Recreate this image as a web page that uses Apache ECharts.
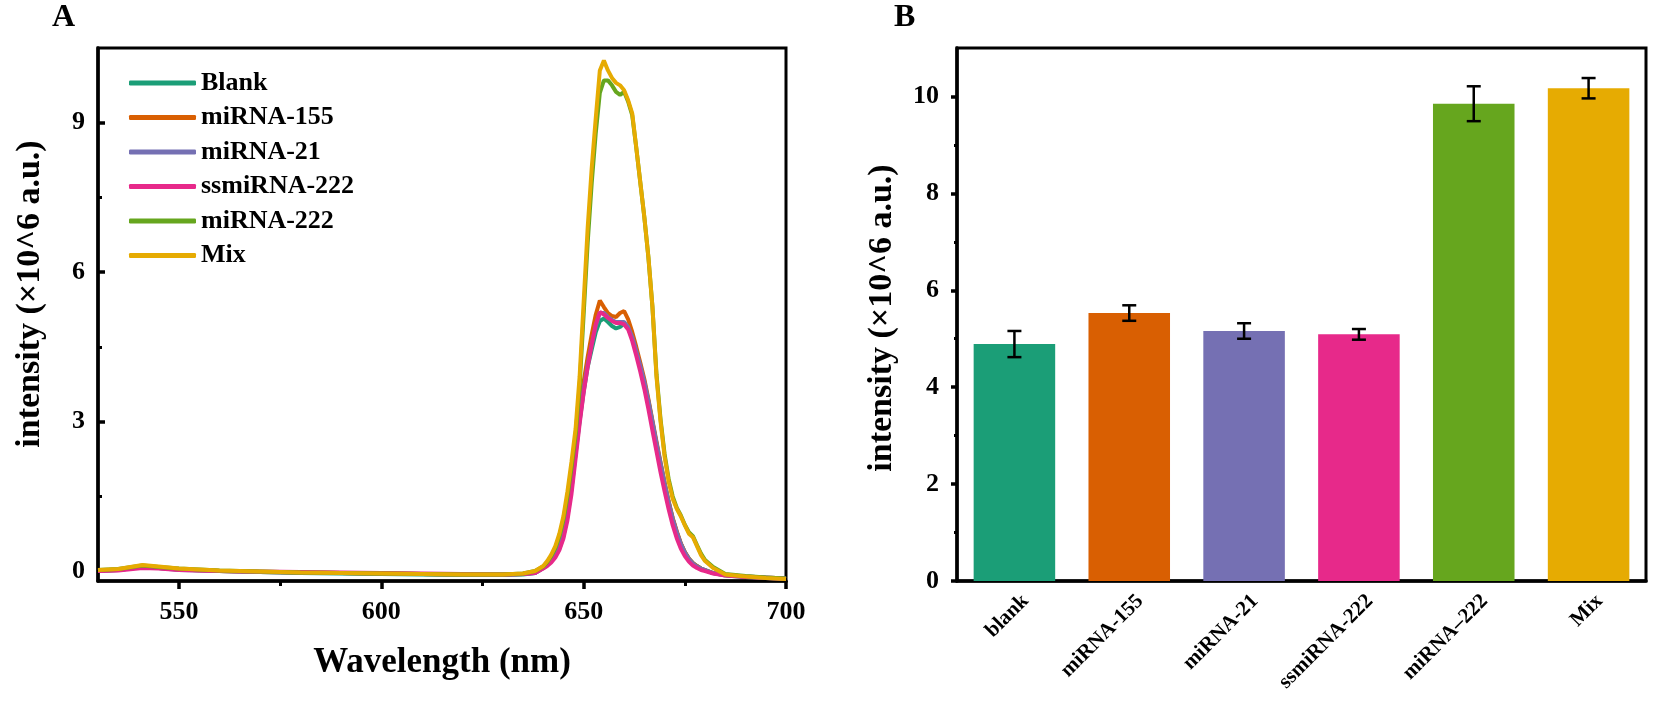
<!DOCTYPE html>
<html>
<head>
<meta charset="utf-8">
<script src="https://cdn.jsdelivr.net/npm/echarts@6/dist/echarts.min.js"></script>
<style>
html,body{margin:0;padding:0;background:#fff;}
#c{width:1654px;height:704px;}
</style>
</head>
<body>
<div id="c"></div>
<script>
// ---------- Panel A data ----------
const wavelength = [530,535,541,545,550,560,570,580,590,600,610,620,630,635,638,
  640,641,642,643,644,645,646,647,648,649,
  650,651,652,653,654,655,656,657,658,659,
  660,661,662,663,664,665,666,667,668,669,
  670,671,672,673,674,675,676,677,678,679,
  680,682,685,690,695,700];

const blank = [0.0,0.02,0.08,0.06,0.03,0.0,-0.02,-0.04,-0.05,-0.06,-0.07,-0.08,-0.08,-0.07,-0.04,
  0.06,0.12,0.2,0.3,0.45,0.7,1.1,1.65,2.35,3.0,
  3.6,4.1,4.45,4.8,5.02,5.07,5.0,4.92,4.87,4.9,
  4.97,4.88,4.68,4.4,4.1,3.78,3.4,2.98,2.55,2.15,
  1.75,1.38,1.05,0.78,0.55,0.38,0.25,0.16,0.1,0.05,
  0.02,-0.04,-0.09,-0.12,-0.14,-0.16];

const mir155 = [0.01,0.03,0.09,0.07,0.03,0.0,-0.02,-0.03,-0.04,-0.05,-0.06,-0.07,-0.07,-0.06,-0.03,
  0.07,0.13,0.22,0.33,0.5,0.77,1.2,1.78,2.5,3.2,
  3.8,4.3,4.75,5.15,5.43,5.3,5.18,5.12,5.1,5.18,
  5.22,5.05,4.8,4.5,4.18,3.85,3.45,3.02,2.6,2.18,
  1.78,1.4,1.07,0.8,0.56,0.38,0.25,0.16,0.1,0.05,
  0.02,-0.04,-0.08,-0.11,-0.13,-0.15];

const mir21 = [0.0,0.02,0.08,0.06,0.02,0.0,-0.02,-0.03,-0.04,-0.05,-0.06,-0.07,-0.07,-0.06,-0.04,
  0.06,0.12,0.2,0.31,0.47,0.72,1.12,1.68,2.38,3.05,
  3.65,4.15,4.55,4.92,5.18,5.18,5.1,5.04,5.0,5.0,
  5.0,4.9,4.7,4.42,4.12,3.8,3.42,3.0,2.57,2.16,
  1.76,1.38,1.05,0.78,0.55,0.37,0.24,0.15,0.09,0.05,
  0.02,-0.04,-0.08,-0.11,-0.13,-0.15];

const ssmir222 = [0.0,0.01,0.06,0.05,0.02,0.0,-0.01,-0.02,-0.03,-0.04,-0.05,-0.06,-0.07,-0.06,-0.04,
  0.05,0.1,0.17,0.27,0.42,0.65,1.02,1.55,2.25,2.95,
  3.58,4.1,4.55,4.95,5.2,5.15,5.08,5.02,4.98,4.98,
  4.95,4.85,4.62,4.32,4.0,3.65,3.25,2.82,2.4,1.98,
  1.6,1.24,0.92,0.66,0.45,0.3,0.19,0.11,0.06,0.02,
  0.0,-0.05,-0.09,-0.12,-0.14,-0.16];

const mir222 = [0.02,0.04,0.11,0.08,0.05,0.01,-0.01,-0.03,-0.04,-0.05,-0.06,-0.07,-0.07,-0.05,0.0,
  0.09,0.18,0.3,0.46,0.7,1.03,1.5,2.08,2.72,3.7,
  5.15,6.6,7.8,8.8,9.6,9.85,9.85,9.75,9.62,9.56,
  9.62,9.42,9.15,8.5,7.8,7.1,6.3,5.3,3.95,3.05,
  2.35,1.85,1.5,1.27,1.12,0.93,0.78,0.7,0.52,0.35,
  0.22,0.08,-0.06,-0.1,-0.13,-0.15];

const mix = [0.02,0.04,0.12,0.09,0.05,0.01,-0.01,-0.03,-0.04,-0.05,-0.06,-0.07,-0.07,-0.05,0.0,
  0.1,0.2,0.33,0.5,0.75,1.1,1.6,2.2,2.85,3.9,
  5.4,6.9,8.1,9.1,10.05,10.25,10.05,9.9,9.8,9.75,
  9.65,9.45,9.19,8.5,7.8,7.1,6.3,5.3,3.9,3.0,
  2.3,1.8,1.45,1.25,1.1,0.92,0.75,0.68,0.5,0.32,
  0.2,0.06,-0.07,-0.11,-0.14,-0.16];

const lineNames = ['Blank','miRNA-155','miRNA-21','ssmiRNA-222','miRNA-222','Mix'];
const lineValues = [blank, mir155, mir21, ssmir222, mir222, mix];
const xTickLabelsA = [550,600,650,700];
const xMinorTicksA = [575,625,675];
const yTickLabelsA = [0,3,6,9];
const yMinorTicksA = [1.5,4.5,7.5];

// ---------- Panel B data ----------
const barCategories = ['blank','miRNA-155','miRNA-21','ssmiRNA-222','miRNA\u2013222','Mix'];
const barValues = [4.89, 5.53, 5.16, 5.09, 9.85, 10.17];
const barErrors = [0.27, 0.16, 0.16, 0.11, 0.36, 0.21];
const yTickLabelsB = [0,2,4,6,8,10];
const yMinorTicksB = [1,3,5,7,9];

// ---------- Styling ----------
const palette = ['#1b9e77','#d95f02','#7570b3','#e7298a','#66a61e','#e6ab02'];
const FF = '"Liberation Serif","Times New Roman",serif';
const chart = echarts.init(document.getElementById('c'), null, {renderer:'canvas'});

const lineSeries = lineNames.map((n, k) => ({
  name: n, type: 'line', xAxisIndex: 0, yAxisIndex: 0,
  showSymbol: false, symbol: 'none', animation: false,
  lineStyle: {width: 4, color: palette[k]}, itemStyle: {color: palette[k]},
  data: wavelength.map((w, i) => [w, lineValues[k][i]]),
  z: 2 + k
}));

const errData = barValues.map((v, i) => [i, v - barErrors[i], v + barErrors[i]]);

const option = {
  animation: false,
  backgroundColor: '#fff',
  textStyle: {fontFamily: FF},
  grid: [
    {left: 98, top: 48, width: 688, height: 533, show: true, borderColor: '#000', borderWidth: 3, containLabel: false},
    {left: 957, top: 48, width: 689, height: 533, show: true, borderColor: '#000', borderWidth: 3, containLabel: false}
  ],
  legend: {
    data: lineNames, orient: 'vertical', left: 124, top: 65,
    icon: 'roundRect', itemWidth: 67, itemHeight: 5, itemGap: 8.5,
    textStyle: {fontFamily: FF, fontWeight: 'bold', fontSize: 26, color: '#000', lineHeight: 26}
  },
  xAxis: [
    {type: 'value', gridIndex: 0, min: 530, max: 700, position: 'bottom',
     axisLine: {onZero: false, lineStyle: {color: '#000', width: 3.5}},
     axisTick: {customValues: xTickLabelsA, length: 8, lineStyle: {color: '#000', width: 3.5}},
     axisLabel: {customValues: xTickLabelsA, margin: 18, fontFamily: FF, fontWeight: 'bold', fontSize: 26, color: '#000'},
     splitLine: {show: false}},
    {type: 'value', gridIndex: 0, min: 530, max: 700, position: 'bottom',
     axisLine: {show: false, onZero: false},
     axisTick: {customValues: xMinorTicksA, length: 5, lineStyle: {color: '#000', width: 3}},
     axisLabel: {show: false}, splitLine: {show: false}},
    {type: 'category', gridIndex: 1, data: barCategories, position: 'bottom',
     axisLine: {onZero: false, lineStyle: {color: '#000', width: 3.5}},
     axisTick: {show: false},
     axisLabel: {rotate: 45, margin: 6, interval: 0, verticalAlign: 'top', padding: [5, 0, 0, 0],
       fontFamily: FF, fontWeight: 'bold', fontSize: 21, color: '#000'},
     splitLine: {show: false}}
  ],
  yAxis: [
    {type: 'value', gridIndex: 0, min: -0.2, max: 10.5, position: 'left',
     axisLine: {show: true, onZero: false, lineStyle: {color: '#000', width: 3.5}},
     axisTick: {show: true, inside: true, customValues: yTickLabelsA, length: 7, lineStyle: {color: '#000', width: 3.5}},
     axisLabel: {customValues: yTickLabelsA, margin: 13, fontFamily: FF, fontWeight: 'bold', fontSize: 26, color: '#000'},
     splitLine: {show: false}},
    {type: 'value', gridIndex: 0, min: -0.2, max: 10.5, position: 'left',
     axisLine: {show: false, onZero: false},
     axisTick: {show: true, inside: true, customValues: yMinorTicksA, length: 4, lineStyle: {color: '#000', width: 3}},
     axisLabel: {show: false}, splitLine: {show: false}},
    {type: 'value', gridIndex: 1, min: 0, max: 11, position: 'left',
     axisLine: {show: true, onZero: false, lineStyle: {color: '#000', width: 3.5}},
     axisTick: {show: true, customValues: yTickLabelsB, length: 6, lineStyle: {color: '#000', width: 3.5}},
     axisLabel: {customValues: yTickLabelsB, margin: 18, fontFamily: FF, fontWeight: 'bold', fontSize: 26, color: '#000'},
     splitLine: {show: false}},
    {type: 'value', gridIndex: 1, min: 0, max: 11, position: 'left',
     axisLine: {show: false, onZero: false},
     axisTick: {show: true, customValues: yMinorTicksB, length: 3, lineStyle: {color: '#000', width: 3}},
     axisLabel: {show: false}, splitLine: {show: false}}
  ],
  series: lineSeries.concat([
    {type: 'bar', xAxisIndex: 2, yAxisIndex: 2, barWidth: '71%',
     data: barValues.map((v, i) => ({value: v, itemStyle: {color: palette[i]}})), z: 2},
    {type: 'custom', xAxisIndex: 2, yAxisIndex: 2, z: 10,
     renderItem: function (params, api) {
       const top = api.coord([api.value(0), api.value(2)]);
       const bot = api.coord([api.value(0), api.value(1)]);
       const w = 7;
       const st = {stroke: '#000', lineWidth: 2.5};
       return {type: 'group', children: [
         {type: 'line', shape: {x1: top[0], y1: top[1], x2: bot[0], y2: bot[1]}, style: st},
         {type: 'line', shape: {x1: top[0] - w, y1: top[1], x2: top[0] + w, y2: top[1]}, style: st},
         {type: 'line', shape: {x1: bot[0] - w, y1: bot[1], x2: bot[0] + w, y2: bot[1]}, style: st}
       ]};
     },
     data: errData}
  ]),
  graphic: [
    {type: 'text', left: 52, top: 2, style: {text: 'A', font: 'bold 32px ' + FF, fill: '#000'}},
    {type: 'text', left: 894, top: 2, style: {text: 'B', font: 'bold 32px ' + FF, fill: '#000'}},
    {type: 'text', x: 442, y: 663, style: {text: 'Wavelength (nm)', font: 'bold 35px ' + FF, fill: '#000', align: 'center', verticalAlign: 'middle'}},
    {type: 'text', x: 30, y: 294, rotation: Math.PI / 2, style: {text: 'intensity (\u00d710^6 a.u.)', font: 'bold 34px ' + FF, fill: '#000', align: 'center', verticalAlign: 'middle'}},
    {type: 'text', x: 882, y: 318, rotation: Math.PI / 2, style: {text: 'intensity (\u00d710^6 a.u.)', font: 'bold 34px ' + FF, fill: '#000', align: 'center', verticalAlign: 'middle'}}
  ]
};
chart.setOption(option);
</script>
</body>
</html>
